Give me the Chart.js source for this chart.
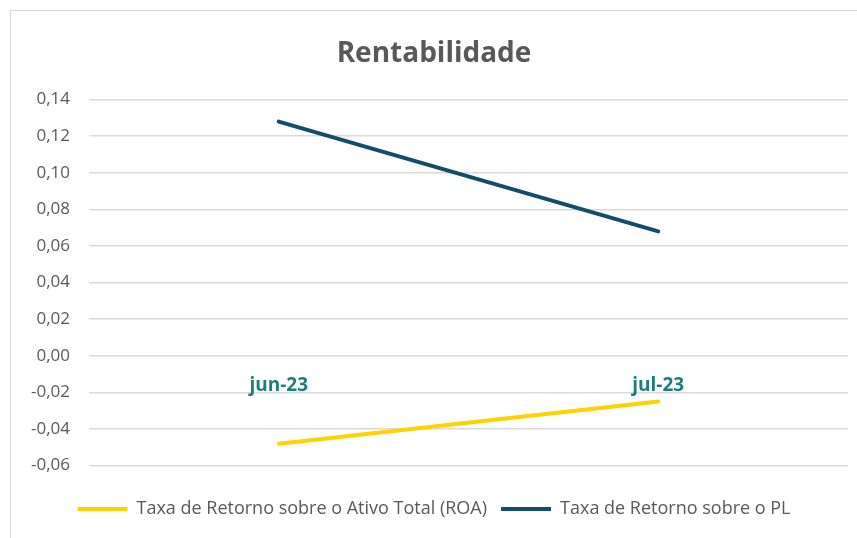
<!DOCTYPE html>
<html>
<head>
<meta charset="utf-8">
<script src="https://cdn.jsdelivr.net/npm/chart.js@4"></script>
<style>
    html, body { margin: 0; padding: 0; background: #fff; }
    #wrap { position: relative; width: 857px; height: 538px; }
    #frame { position: absolute; left: 10px; top: 10px; width: 900px; height: 600px; border-top: 1px solid #d9d9d9; border-left: 1px solid #d9d9d9; }
</style>
</head>
<body>
<div id="wrap">
    <div id="frame"></div>
    <canvas id="chart" width="857" height="538"></canvas>
</div>
<script>
const months = ['jun-23', 'jul-23'];
const roaValues = [-0.048, -0.025];
const plValues = [0.128, 0.068];
const seriesNames = ['Taxa de Retorno sobre o Ativo Total (ROA)', 'Taxa de Retorno sobre o PL'];
const seriesColors = ['#ffd200', '#124e6b'];

const font = "'Open Sans', sans-serif";

new Chart(document.getElementById('chart'), {
    type: 'line',
    data: {
        labels: months,
        datasets: [
            { label: seriesNames[0], data: roaValues, borderColor: seriesColors[0], backgroundColor: seriesColors[0], borderWidth: 4, pointRadius: 0, borderCapStyle: 'round' },
            { label: seriesNames[1], data: plValues, borderColor: seriesColors[1], backgroundColor: seriesColors[1], borderWidth: 4, pointRadius: 0, borderCapStyle: 'round' }
        ]
    },
    options: {
        responsive: false,
        animation: false,
        layout: { padding: { left: 20, right: 9, top: 20, bottom: 10 } },
        plugins: {
            title: {
                display: true,
                text: 'Rentabilidade',
                color: '#595959',
                font: { family: font, size: 28, weight: 'bold' },
                padding: { top: 17, bottom: 29 }
            },
            legend: {
                position: 'bottom',
                title: { display: true, text: '', font: { size: 17 }, padding: 0 },
                labels: {
                    color: '#595959',
                    font: { family: font, size: 18 },
                    usePointStyle: true,
                    pointStyleWidth: 50,
                    padding: 14,
                    generateLabels: chart => chart.data.datasets.map((ds, i) => ({
                        text: ds.label,
                        pointStyle: 'line',
                        strokeStyle: ds.borderColor,
                        fillStyle: ds.borderColor,
                        lineWidth: 4,
                        fontColor: '#595959',
                        datasetIndex: i
                    }))
                }
            },
            tooltip: { enabled: false }
        },
        scales: {
            x: {
                position: { y: 0 },
                offset: true,
                grid: { display: false },
                border: { display: false },
                ticks: {
                    color: '#1d7d7d',
                    font: { family: font, size: 19, weight: 'bold' },
                    padding: 10
                }
            },
            y: {
                min: -0.06,
                max: 0.14,
                afterFit: scale => { scale.width = 69; },
                grid: { color: '#d9d9d9', lineWidth: 1.5, drawTicks: false },
                border: { display: false },
                ticks: {
                    stepSize: 0.02,
                    color: '#595959',
                    font: { family: font, size: 17 },
                    padding: 19,
                    callback: v => v.toFixed(2).replace('.', ',')
                }
            }
        }
    }
});
</script>
</body>
</html>
